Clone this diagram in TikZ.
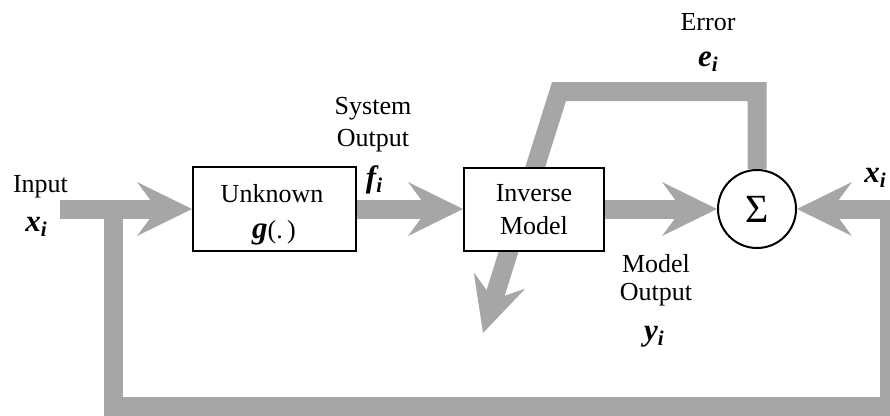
\documentclass[tikz,border=0pt]{standalone}
\usepackage{fontspec}
\setmainfont{Liberation Serif}
\usetikzlibrary{arrows.meta,backgrounds}
\definecolor{barc}{HTML}{A6A6A6}
\newcommand\bvar[2]{{\fontsize{31}{31}\selectfont\bfseries\itshape #1}\raisebox{-5pt}{\fontsize{21}{21}\selectfont\bfseries\itshape #2}}
\begin{document}
\begin{tikzpicture}[x=1pt,y=-1pt,
  txt/.style={font=\fontsize{26}{30}\selectfont, inner sep=0pt},
  box/.style={draw, line width=2pt, fill=white, inner sep=0pt},
  flow/.style={draw=barc, line width=19pt, line join=miter,
    -{Stealth[length=55pt,width=54pt,inset=20pt,line width=0pt]}}]
\useasboundingbox (0,0) rectangle (890,415);
% blocks
\node[box, minimum width=163pt, minimum height=84pt] (unk) at (274.5,209) {};
\node[box, minimum width=140pt, minimum height=83pt] (inv) at (534,209) {};
\node[box, circle, minimum size=78pt, font=\fontsize{40}{40}\selectfont] (sig) at (757,209) {Σ};
% coordinates
\coordinate (inL) at (60,209);
\coordinate (jl) at (113,209);
\coordinate (br) at (889.5,406);
\coordinate (ec) at (559,91.5);
\coordinate (etip) at (483,333);
% connectors
\begin{scope}[on background layer]
\draw[flow] (inL) -- (unk.west);
\draw[flow] (unk.east) -- (unk.east -| inv.west);
\draw[flow] (inv.east) -- (inv.east -| sig.west);
\draw[flow] (jl) |- (br) |- (sig.east);
\draw[flow] (sig.north) |- (ec) -- (etip);
\end{scope}
% texts
\node[txt, anchor=base] (tIn) at (40.5,192) {Input};
\node[txt] (tXL) at (36,227) {\bvar{x}{i}};
\node[txt, anchor=base] (tSys) at (373,114) {System};
\node[txt, anchor=base] (tSO) at (373,146) {Output};
\node[txt] (tF) at (374,180) {\bvar{f}{i}};
\node[txt, anchor=base] (tErr) at (708,30) {Error};
\node[txt] (tE) at (708,62) {\bvar{e}{i}};
\node[txt, anchor=base] (tMod) at (656,272) {Model};
\node[txt, anchor=base] (tMO) at (656,300) {Output};
\node[txt] (tY) at (654,337) {\bvar{y}{i}};
\node[txt] (tXR) at (875,178) {\bvar{x}{i}};
\node[txt, anchor=base] (tU1) at (272,202) {Unknown};
\node[txt, anchor=base] (tU2) at (274,238) {{\fontsize{31}{31}\selectfont\bfseries\itshape g}(.\,)};
\node[txt, anchor=base] (tI1) at (534,201) {Inverse};
\node[txt, anchor=base] (tI2) at (534,234) {Model};
\end{tikzpicture}
\end{document}
